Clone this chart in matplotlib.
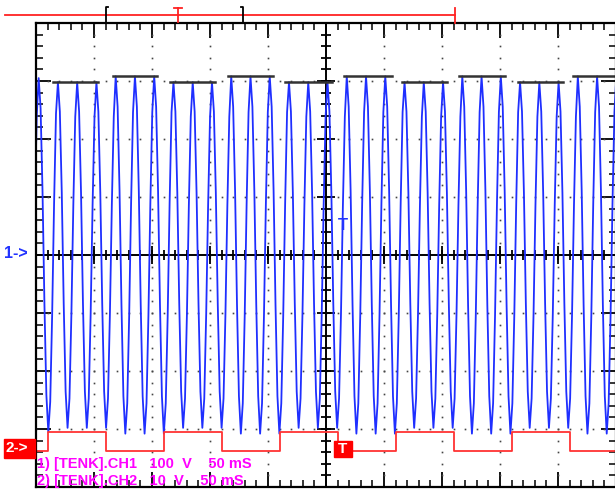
#import neccessary libraries
import numpy as np
import matplotlib.pyplot as plt
from matplotlib.lines import Line2D
from matplotlib.patches import Rectangle

#channel 1 (blue): one sampled cycle (fraction of peak) and peak per cycle in div
cycle_shape = [1.0, 0.83, 0.36, -0.28, -0.79, -1.0, -0.83, -0.34, 0.29, 0.8]
cycle_period = 16.6      # ms
first_peak = 2.3 - 16.6  # ms
cycle_peaks = [3.0, 3.05, 2.98, 2.98, 2.98, 3.08, 3.08, 3.08, 2.98, 2.98, 2.98,
               3.08, 3.08, 3.08, 2.98, 2.98, 2.98, 3.08, 3.08, 3.08, 2.98, 2.98,
               2.98, 3.08, 3.08, 3.08, 2.98, 2.98, 2.98, 3.08, 3.08, 3.08, 3.0]

#channel 2 (red): square wave edges in ms and level in div
sq_times = [0, 10, 60, 110, 160, 210, 260, 310, 360, 410, 460, 500]
sq_levels = [-3.38, -3.06, -3.38, -3.06, -3.38, -3.06, -3.38, -3.06, -3.38, -3.06, -3.38, -3.38]

#black max markers over the peaks: start, end (ms), level (div)
mark_start = [14.7, 66.4, 115.5, 165.5, 214.7, 265.5, 315.5, 364.7, 415.5, 463.0]
mark_end = [53.5, 104.5, 154.3, 204.3, 255.5, 307.0, 354.3, 404.0, 454.3, 500.0]
mark_level = [2.98, 3.09, 2.98, 3.09, 2.98, 3.09, 2.98, 3.09, 2.98, 3.09]

info_lines = ['1) [TENK].CH1   100  V    50 mS', '2) [TENK].CH2   10  V    50 mS']

#build the blue trace
t_wave = []
y_wave = []
n = len(cycle_shape)
for k in range(len(cycle_peaks)):
    for j in range(n):
        t_wave.append(first_peak + (k + j / n) * cycle_period)
        y_wave.append(cycle_peaks[k] * cycle_shape[j])

#draw figure
fig = plt.figure(figsize=(6.15, 4.9), dpi=100)
ax = fig.add_axes([36 / 615, 3 / 490, 580 / 615, 464 / 490])
ax.set_xlim(0, 500)
ax.set_ylim(-4, 4)

#grid dots along the major lines
xmaj = np.arange(0, 501, 50)
ymaj = np.arange(-4, 5, 1)
xmin = np.arange(0, 501, 10)
ymin = np.arange(-4, 4.01, 0.2)
for gx in xmaj[1:-1]:
    if gx != 250:
        ax.plot([gx] * len(ymin), ymin, 's', ms=1.2, color='#444444', mew=0)
for gy in ymaj[1:-1]:
    if gy != 0:
        ax.plot(xmin, [gy] * len(xmin), 's', ms=1.2, color='#444444', mew=0)

#centre cross with its ticks
ax.axhline(0, color='black', lw=1.4)
ax.axvline(250, color='black', lw=1.4)
ax.plot(xmin, [0] * len(xmin), '|', ms=7, mew=1.3, color='black')
ax.plot(xmaj, [0] * len(xmaj), '|', ms=13, mew=1.3, color='black')
ax.plot([250] * len(ymin), ymin, '_', ms=7, mew=1.3, color='black')
ax.plot([250] * len(ymaj), ymaj, '_', ms=13, mew=1.3, color='black')

#traces
ax.plot(t_wave, y_wave, color='#1f2fff', lw=1.3)
ax.step(sq_times, sq_levels, where='post', color='#ff3333', lw=1.3)
for s, e, lv in zip(mark_start, mark_end, mark_level):
    ax.plot([s, e], [lv, lv], color='#333333', lw=1.8)

#frame and ticks
ax.set_xticks(xmaj)
ax.set_yticks(ymaj)
ax.set_xticks(xmin, minor=True)
ax.set_yticks(ymin, minor=True)
ax.tick_params(which='both', direction='in', top=True, right=True,
               labelbottom=False, labelleft=False, color='black')
ax.tick_params(which='major', length=11, width=1.3)
ax.tick_params(which='minor', length=5, width=1.1)
for sp in ax.spines.values():
    sp.set_linewidth(1.6)

#channel text
ax.text(0.5, -3.6, info_lines[0], color='#ff00ff', fontsize=10.5, fontweight='bold',
        family='Liberation Sans', va='center', ha='left')
ax.text(0.5, -3.9, info_lines[1], color='#ff00ff', fontsize=10.5, fontweight='bold',
        family='Liberation Sans', va='center', ha='left')

#left markers
fig.text(4 / 615, 1 - 254 / 490, '1->', color='#2233ff', fontsize=11.5,
         fontweight='bold', family='Liberation Sans', va='center', ha='left')
fig.patches.append(Rectangle((4 / 615, 1 - 458 / 490), 31 / 615, 19 / 490,
                             transform=fig.transFigure, color='#ff0000', zorder=5))
fig.text(6 / 615, 1 - 448 / 490, '2->', color='white', fontsize=11,
         fontweight='bold', family='Liberation Sans', va='center', ha='left', zorder=6)

#trigger markers
fig.patches.append(Rectangle((334 / 615, 1 - 457 / 490), 18 / 615, 16 / 490,
                             transform=fig.transFigure, color='#ff0000', zorder=5))
fig.text(343 / 615, 1 - 449 / 490, 'T', color='white', fontsize=11,
         fontweight='bold', family='Liberation Sans', va='center', ha='center', zorder=6)
fig.text(343 / 615, 1 - 225 / 490, 'T', color='#2233ff', fontsize=12,
         fontweight='bold', family='Liberation Sans', va='center', ha='center')

#top bar: record position
def fline(xs, ys, c, lw=1.3):
    fig.lines.append(Line2D([x / 615 for x in xs], [1 - y / 490 for y in ys],
                            transform=fig.transFigure, color=c, lw=lw))

fline([5, 455], [15.5, 15.5], '#ff2222')
fline([455, 455], [8, 23], '#ff2222')
fline([178, 178], [8, 22], '#ff2222')
fline([174, 182], [8, 8], '#ff2222')
fline([108, 106, 106, 108], [7, 7, 23, 23], 'black')
fline([241, 243, 243, 241], [7, 7, 23, 23], 'black')

plt.savefig('out.png', dpi=100)
